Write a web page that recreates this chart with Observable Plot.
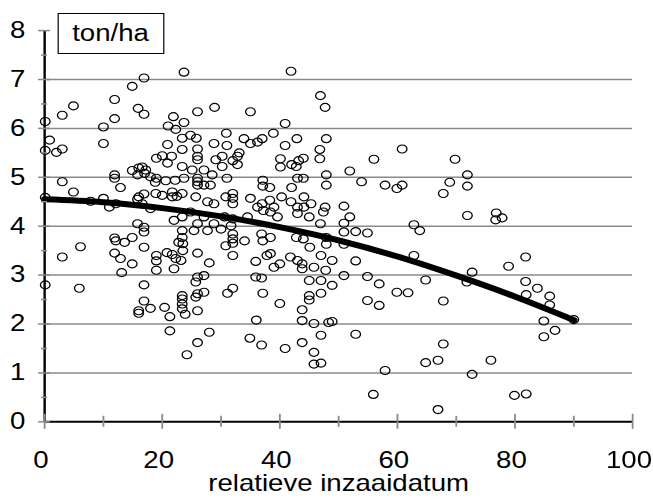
<!DOCTYPE html>
<html><head><meta charset="utf-8">
<script src="https://cdn.jsdelivr.net/npm/d3@7"></script>
<script src="https://cdn.jsdelivr.net/npm/@observablehq/plot@0.6"></script>
<style>
html,body{margin:0;padding:0;background:#fff;overflow:hidden;}
#wrap{position:relative;width:544px;height:504px;transform:scaleX(1.2);transform-origin:0 0;font-family:"Liberation Sans",Arial,sans-serif;}
#chart svg{display:block;}
#unit{position:absolute;left:47.5px;top:13px;width:89.2px;height:41px;box-sizing:border-box;border:1.5px solid #000;font-size:23px;display:flex;align-items:center;justify-content:center;background:#fff;color:#000;}
</style></head><body>
<div id="wrap"><div id="chart"></div><div id="unit">ton/ha</div></div>
<script>
// relatieve inzaaidatum (x) and yield in ton/ha (y)
const xs = [
16.9,14.9,23.7,4.9,3.0,11.9,11.9,15.9,16.9,0.1,10.0,21.9,21.0,22.3,23.7,23.4,0.85,0.1,2.0,3.0,10.0,20.9,23.4,19.0,20.0,21.6,20.9,23.4,16.0,16.6,17.2,14.9,15.8,17.0,11.9,11.9,18.0,19.0,18.8,20.6,22.2,23.7,3.0,12.9,4.9,0.1,18.9,20.0,21.7,22.5,23.4,16.0,16.9,7.8,10.0,11.0,12.1,15.8,16.6,18.0,21.7,22.0,23.4,15.8,16.9,16.9,23.4,23.4,22.8,11.9,12.1,13.6,14.9,6.1,16.9,
3.0,11.9,12.9,14.9,13.1,19.0,19.0,19.0,20.8,21.7,22.3,22.0,23.5,23.5,23.2,0.1,5.9,16.9,16.9,18.0,16.0,16.0,20.4,21.3,21.3,23.4,23.4,23.4,23.4,23.9,24.2,
41.9,46.9,47.7,26.0,28.9,35.0,40.9,30.9,38.9,33.9,35.0,36.2,37.0,42.9,47.9,24.8,25.8,28.8,31.0,40.9,46.8,46.8,26.0,26.0,26.0,33.1,32.8,30.2,29.1,32.0,40.1,40.1,42.0,43.2,44.0,42.8,25.1,27.1,30.2,32.8,28.5,31.0,26.0,26.0,26.0,27.1,28.2,37.1,37.1,38.3,42.0,43.0,44.0,47.9,47.9,25.7,27.7,28.8,30.8,32.0,32.0,32.0,35.0,36.2,37.0,38.3,39.0,40.3,41.9,43.0,44.1,44.1,45.3,47.7,47.4,24.8,27.1,26.0,28.8,30.6,32.0,31.7,34.5,37.2,38.4,39.6,43.0,45.0,46.9,25.4,27.7,30.0,32.0,32.0,32.0,34.0,36.9,38.4,37.1,42.8,44.0,45.1,47.9,47.9,30.8,
26.0,28.0,32.0,35.9,37.8,38.4,40.0,39.0,41.8,43.0,43.8,43.8,45.8,47.0,47.8,26.0,25.7,26.0,25.7,27.1,27.1,26.0,28.0,26.0,31.1,32.0,35.9,36.9,37.1,40.0,36.0,34.9,36.9,40.9,45.0,47.0,45.0,45.0,47.0,43.8,43.8,45.8,48.3,47.0,43.8,45.8,45.8,47.0,
60.8,56.0,69.8,51.9,53.9,57.9,59.9,60.8,68.9,67.8,71.9,71.9,50.9,51.9,50.9,50.9,52.9,54.9,62.8,63.8,71.9,50.9,
48.9,52.9,50.9,54.9,48.9,56.9,62.8,64.8,72.7,71.8,59.9,61.8,54.9,56.9,67.8,48.9,52.9,67.8,64.8,66.9,57.9,72.7,55.9,66.9,
76.8,77.8,76.7,81.8,78.9,81.8,83.8,81.9,85.9,85.9,90.0,84.9,86.8,84.9,75.9,79.9,81.9
];
const ys = [
7.03,6.86,7.15,6.46,6.27,6.59,6.2,6.41,6.29,6.14,6.03,6.24,6.05,5.98,6.12,5.8,5.76,5.55,5.51,5.58,5.69,5.67,5.57,5.39,5.44,5.43,5.29,5.22,5.19,5.21,5.15,5.14,5.05,5.08,5.05,4.98,5.01,4.98,4.9,4.93,4.94,4.98,4.91,4.79,4.7,4.59,4.67,4.63,4.70,4.61,4.67,4.6,4.66,4.51,4.57,4.39,4.46,4.55,4.46,4.36,4.6,4.12,4.19,4.05,3.98,3.88,3.91,3.77,3.67,3.76,3.7,3.67,3.77,3.58,3.57,
3.37,3.45,3.34,3.23,3.05,3.4,3.29,3.1,3.46,3.42,3.34,3.13,3.64,3.5,3.3,2.8,2.73,2.8,2.47,2.32,2.27,2.22,2.34,2.15,1.86,2.58,2.51,2.41,2.31,2.2,1.37,
7.17,6.67,6.43,6.34,6.43,6.34,6.1,5.9,5.9,5.79,5.69,5.72,5.79,5.79,5.79,5.86,5.8,5.69,5.65,5.65,5.57,5.38,5.58,5.43,5.36,5.5,5.43,5.43,5.36,5.34,5.38,5.21,5.26,5.34,5.39,5.22,5.15,5.15,5.22,5.26,5.05,4.98,4.98,4.91,4.84,4.84,4.84,4.94,4.82,4.79,4.79,4.98,4.98,5.05,4.84,4.6,4.5,4.46,4.6,4.67,4.57,4.46,4.57,4.39,4.46,4.53,4.39,4.6,4.5,4.39,4.6,4.39,4.46,4.39,4.29,4.29,4.19,4.05,4.05,4.19,4.15,4.01,4.19,4.32,4.29,4.19,4.26,4.19,4.05,3.91,3.91,3.94,3.84,3.74,3.65,3.7,3.84,3.77,3.7,3.77,3.74,3.57,3.77,3.63,3.6,
3.45,3.25,3.4,3.28,3.4,3.44,3.23,3.16,3.37,3.3,3.23,3.13,3.16,3.4,3.1,2.96,2.86,2.62,2.55,2.99,2.65,2.27,1.83,1.62,2.63,2.73,2.96,2.94,2.63,2.42,2.08,1.71,1.57,1.5,2.89,2.89,2.58,2.49,2.63,2.29,2.07,2.01,2.03,1.77,1.62,1.42,1.18,1.2,
5.58,5.37,5.37,5.13,4.91,4.84,4.77,4.84,4.9,4.67,5.05,4.82,4.41,4.19,4.06,3.88,3.89,3.86,4.03,3.91,4.22,3.63,
3.3,3.29,2.99,2.97,2.79,2.82,3.4,2.9,3.06,2.86,2.65,2.64,2.48,2.38,2.47,2.05,1.79,1.59,1.21,1.26,1.05,0.97,0.56,0.25,
4.27,4.17,4.13,3.37,3.18,2.87,2.73,2.6,2.57,2.39,2.09,2.06,1.87,1.74,1.26,0.54,0.57
];
// trend curve
const trendX = [0, 10, 20, 30, 40, 50, 60, 70, 80, 90];
const trendY = [4.55, 4.49, 4.37, 4.20, 3.98, 3.71, 3.38, 2.99, 2.56, 2.08];
// axes
const xTicks = [0, 20, 40, 60, 80, 100];
const xMinor = [10, 30, 50, 70, 90];
const yTicks = [0, 1, 2, 3, 4, 5, 6, 7, 8];
const yMinor = [0.5, 1.5, 2.5, 3.5, 4.5, 5.5, 6.5, 7.5];
const gridY = [1, 2, 3, 4, 5, 6, 7];
const xTitle = "relatieve inzaaidatum";

const points = xs.map((x, i) => ({x, y: ys[i]}));
const trend = trendX.map((x, i) => ({x, y: trendY[i]}));

const chart = Plot.plot({
  width: 544, height: 504,
  marginLeft: 36.7, marginRight: 17.3, marginTop: 30.1, marginBottom: 82.7,
  style: {fontFamily: "Liberation Sans, Arial, sans-serif", fontSize: "23px", color: "#000", background: "#fff", overflow: "visible"},
  x: {domain: [0, 100]},
  y: {domain: [0, 8]},
  marks: [
    Plot.ruleY(gridY, {y: d => d, stroke: "#8a8a8a", strokeWidth: 1.5}),
    Plot.line(trend, {x: "x", y: "y", stroke: "#000", strokeWidth: 6, curve: "monotone-x"}),
    Plot.dot(points, {x: "x", y: "y", r: 4, stroke: "#000", strokeWidth: 1.1, fill: "none"}),
    Plot.ruleX([0], {x: d => d, stroke: "#000", strokeWidth: 2}),
    Plot.ruleY([0], {y: d => d, stroke: "#000", strokeWidth: 2}),
    Plot.ruleX(xTicks, {x: d => d, y1: 0, y2: 0, insetTop: -7.5, insetBottom: -7.5, stroke: "#8a8a8a", strokeWidth: 1.5}),
    Plot.ruleX(xMinor, {x: d => d, y1: 0, y2: 0, insetTop: -5.5, insetBottom: -5.5, stroke: "#8a8a8a", strokeWidth: 1.5}),
    Plot.ruleY(yTicks, {y: d => d, x1: 0, x2: 0, insetLeft: -5, insetRight: -5, stroke: "#8a8a8a", strokeWidth: 1.5}),
    Plot.ruleY(yMinor, {y: d => d, x1: 0, x2: 0, insetLeft: -2.5, insetRight: -2.5, stroke: "#8a8a8a", strokeWidth: 1.5}),
    Plot.axisX(xTicks, {tickSize: 0, tickPadding: 30, dx: -3, label: null, fontSize: 23}),
    Plot.axisY(yTicks, {tickSize: 0, tickPadding: 16, label: null, fontSize: 23}),
    Plot.text([xTitle], {text: d => d, frameAnchor: "bottom", lineAnchor: "top", dy: 53, fontSize: 23, fill: "#000"})
  ]
});
document.getElementById("chart").appendChild(chart);
</script>
</body></html>
